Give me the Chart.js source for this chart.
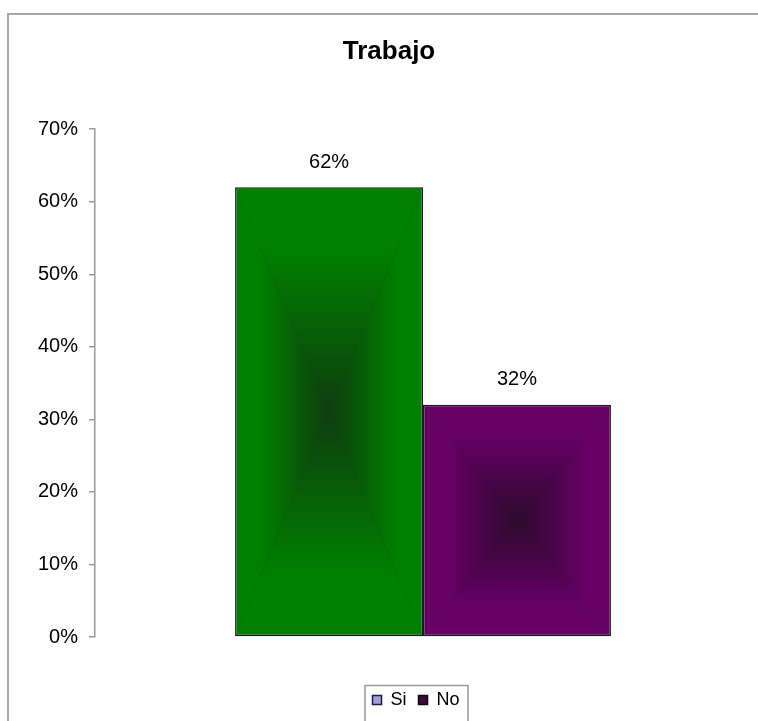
<!DOCTYPE html>
<html>
<head>
<meta charset="utf-8">
<title>Trabajo</title>
<script src="https://cdn.jsdelivr.net/npm/chart.js@4/dist/chart.umd.min.js"></script>
<style>
  html, body { margin:0; padding:0; background:#fff; width:758px; height:721px; overflow:hidden; }
  #frame { position:absolute; left:7px; top:13px; width:800px; height:760px;
           border-top:2px solid #a8a8a8; border-left:2px solid #a8a8a8; }
  #wrap { position:absolute; left:9px; top:15px; width:749px; height:712px; }
</style>
</head>
<body>
<div id="frame"></div>
<div id="wrap"><canvas id="chart"></canvas></div>
<script>
// datos
const categories   = [''];
const seriesNames  = ['Si', 'No'];
const siValues     = [62];
const noValues     = [32];
const yTicks       = [0, 10, 20, 30, 40, 50, 60, 70];

// colores: borde exterior / centro del degradado, y los de la leyenda
const barOuter     = ['#008000', '#660066'];
const barInner     = ['#0e3c0e', '#2c0a2c'];
const legendFill   = ['#a49fdc', '#3a0c3a'];
const legendStroke = ['#1c1c4a', '#140014'];

const FONT = '"Liberation Sans", Arial, sans-serif';

// degradado "desde el centro": cuatro triangulos con gradiente lineal
function centerPattern(w, h, outer, inner){
  const W = Math.max(1, Math.round(w)), H = Math.max(1, Math.round(h));
  const off = document.createElement('canvas');
  off.width = W; off.height = H;
  const g = off.getContext('2d');
  const cx = W / 2, cy = H / 2;
  g.fillStyle = inner; g.fillRect(0, 0, W, H);
  const tri = (pts, x0, y0, x1, y1) => {
    const lg = g.createLinearGradient(x0, y0, x1, y1);
    lg.addColorStop(0, outer);
    lg.addColorStop(0.28, outer);
    lg.addColorStop(1, inner);
    g.fillStyle = lg;
    g.beginPath();
    g.moveTo(pts[0][0], pts[0][1]);
    g.lineTo(pts[1][0], pts[1][1]);
    g.lineTo(cx, cy);
    g.closePath();
    g.fill();
  };
  tri([[0,0],[W,0]], 0, 0, 0, cy);
  tri([[0,H],[W,H]], 0, H, 0, cy);
  tri([[0,0],[0,H]], 0, 0, cx, 0);
  tri([[W,0],[W,H]], W, 0, cx, 0);
  return off;
}

const shadedBars = {
  id:'shadedBars',
  beforeDatasetsDraw(chart){
    const ctx = chart.ctx;
    chart.data.datasets.forEach((ds, i) => {
      chart.getDatasetMeta(i).data.forEach(el => {
        const {x, y, base, width} = el.getProps(['x','y','base','width'], true);
        const left = x - width / 2, top = Math.min(y, base), h = Math.abs(base - y);
        const pat = ctx.createPattern(centerPattern(width, h, barOuter[i], barInner[i]), 'no-repeat');
        pat.setTransform(new DOMMatrix().translate(left, top));
        el.options.backgroundColor = pat;
      });
    });
  }
};

// etiqueta de valor encima de cada barra
const valueLabels = {
  id:'valueLabels',
  afterDatasetsDraw(chart){
    const ctx = chart.ctx;
    ctx.save();
    ctx.font = '20px ' + FONT;
    ctx.fillStyle = '#000';
    ctx.textAlign = 'center';
    ctx.textBaseline = 'middle';
    chart.data.datasets.forEach((ds, i) => {
      chart.getDatasetMeta(i).data.forEach((el, j) => {
        ctx.fillText(ds.data[j] + '%', el.x, el.y - 25);
      });
    });
    ctx.restore();
  }
};

// la leyenda va algo a la izquierda del centro del area de trazado, con marco
const legendFrame = {
  id:'legendFrame',
  afterLayout(chart){
    chart.legend.left -= 7;
    chart.legend.right -= 7;
  },
  afterDraw(chart){
    const boxes = chart.legend && chart.legend.legendHitBoxes;
    if(!boxes || !boxes.length) return;
    const left = Math.min(...boxes.map(b => b.left)) - 8;
    const right = Math.max(...boxes.map(b => b.left + b.width)) + 8;
    const top = boxes[0].top - 6;
    const ctx = chart.ctx;
    ctx.save();
    ctx.strokeStyle = '#9a9a9a';
    ctx.lineWidth = 1.5;
    ctx.strokeRect(left + .5, top + .5, right - left, chart.height - top + 10);
    ctx.restore();
  }
};

new Chart(document.getElementById('chart'), {
  type:'bar',
  data:{
    labels: categories,
    datasets:[
      { label: seriesNames[0], data: siValues, backgroundColor: () => barOuter[0] },
      { label: seriesNames[1], data: noValues, backgroundColor: () => barOuter[1] }
    ]
  },
  options:{
    responsive:true, maintainAspectRatio:false, animation:false, events:[],
    layout:{ padding:{ left:18, right:7, top:0, bottom:8 } },
    datasets:{ bar:{ categoryPercentage:0.573, barPercentage:1, borderColor:'#1a1a1a', borderWidth:1.5, borderSkipped:false } },
    plugins:{
      title:{ display:true, text:'Trabajo', color:'#000', font:{ family:FONT, size:26, weight:'bold' },
              padding:{ top:21, bottom:62 } },
      legend:{
        position:'bottom', fullSize:false,
        labels:{
          color:'#000', font:{ family:FONT, size:18 }, boxWidth:9, boxHeight:9, padding:12,
          generateLabels:() => seriesNames.map((t, i) => ({
            text:t, fillStyle:legendFill[i], strokeStyle:legendStroke[i], lineWidth:1.5, datasetIndex:i, hidden:false
          }))
        }
      },
      tooltip:{ enabled:false }
    },
    scales:{
      x:{
        grid:{ display:false }, border:{ display:false }, ticks:{ display:false },
        afterFit:(s) => { s.height = 42; }
      },
      y:{
        min:0, max:70,
        afterBuildTicks:(s) => { s.ticks = yTicks.map(v => ({ value:v })); },
        grid:{ drawOnChartArea:false, drawTicks:true, tickLength:6, color:'#9a9a9a', lineWidth:1.5 },
        border:{ display:true, color:'#9a9a9a', width:1.5 },
        ticks:{ color:'#000', padding:11, font:{ family:FONT, size:20 }, callback:(v) => v + '%' }
      }
    }
  },
  plugins:[shadedBars, valueLabels, legendFrame]
});
</script>
</body>
</html>
